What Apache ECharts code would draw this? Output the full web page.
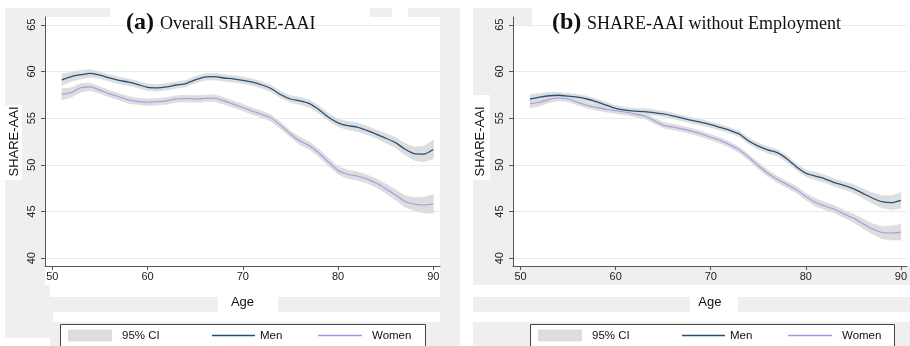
<!DOCTYPE html>
<html>
<head>
<meta charset="utf-8">
<script src="https://cdn.jsdelivr.net/npm/echarts@6/dist/echarts.min.js"></script>
<style>html,body{margin:0;padding:0;background:#fff;}#c{width:910px;height:346px;}</style>
</head>
<body>
<div id="c"></div>
<script>
// ---- data ----
const ages = [51,52,53,54,55,56,57,58,59,60,61,62,63,64,65,66,67,68,69,70,71,72,73,74,75,76,77,78,79,80,81,82,83,84,85,86,87,88,89,90];
const menA = [59.1,59.45,59.65,59.8,59.6,59.3,59.05,58.85,58.6,58.3,58.25,58.35,58.55,58.7,59.1,59.4,59.45,59.3,59.2,59.05,58.85,58.55,58.15,57.5,57.05,56.85,56.55,55.9,55.1,54.5,54.2,54.05,53.7,53.3,52.85,52.4,51.7,51.2,51.15,51.65];
const womenA = [57.55,57.75,58.25,58.35,58.0,57.6,57.3,56.95,56.8,56.7,56.75,56.85,57.05,57.1,57.05,57.1,57.15,56.85,56.5,56.15,55.75,55.4,55.0,54.2,53.3,52.55,52.05,51.25,50.3,49.4,49.0,48.8,48.5,48.05,47.45,46.8,46.1,45.8,45.7,45.8];
const ciA = [0.6,0.5,0.45,0.4,0.35,0.35,0.35,0.35,0.35,0.35,0.35,0.35,0.35,0.35,0.35,0.35,0.35,0.35,0.35,0.35,0.35,0.35,0.35,0.35,0.35,0.4,0.4,0.4,0.4,0.4,0.45,0.45,0.45,0.45,0.5,0.55,0.6,0.7,0.85,1.0];
const menB = [57.05,57.25,57.4,57.45,57.35,57.25,57.05,56.75,56.4,56.05,55.85,55.75,55.7,55.6,55.45,55.25,55.0,54.75,54.55,54.3,54.0,53.7,53.3,52.55,52.0,51.6,51.3,50.65,49.8,49.1,48.8,48.5,48.1,47.8,47.45,46.95,46.45,46.05,45.95,46.2];
const womenB = [56.55,56.7,57.0,57.15,57.05,56.7,56.35,56.15,55.95,55.8,55.65,55.45,55.25,54.75,54.25,54.05,53.85,53.6,53.3,52.95,52.6,52.15,51.6,50.8,49.9,49.1,48.45,47.9,47.35,46.6,46.0,45.6,45.25,44.75,44.3,43.7,43.15,42.75,42.7,42.8];
const ciB = [0.45,0.4,0.35,0.3,0.3,0.3,0.3,0.3,0.3,0.3,0.3,0.3,0.3,0.3,0.3,0.3,0.3,0.3,0.3,0.3,0.3,0.3,0.3,0.3,0.35,0.35,0.35,0.35,0.35,0.35,0.4,0.4,0.4,0.4,0.45,0.5,0.55,0.65,0.75,0.85];
const xTicks = [50,60,70,80,90];
const yTicks = [40,45,50,55,60,65];
const titles = [['(a)','Overall SHARE-AAI'],['(b)','SHARE-AAI without Employment']];
const legendNames = ['95% CI','Men','Women'];
const yName = 'SHARE-AAI';
const xName = 'Age';

// ---- styles ----
const MEN = '#24507e', WOMEN = '#a29ae4', BAND = '#dddddd', GRAY = '#efefef';
const SANS = '"Liberation Sans", Arial, sans-serif';
const SERIF = '"Liberation Serif", "Times New Roman", serif';

// confidence band as a custom polygon series (segment by segment, through the axes' scales)
function bandSeries(vals, ci, idx) {
  const segs = [];
  for (let i = 0; i < ages.length - 1; i++) {
    segs.push([ages[i], vals[i] - ci[i], vals[i] + ci[i], ages[i+1], vals[i+1] - ci[i+1], vals[i+1] + ci[i+1]]);
  }
  return {
    type:'custom', name:'95% CI', xAxisIndex:idx, yAxisIndex:idx, data:segs, silent:true, z:1,
    itemStyle:{color:BAND},
    encode:{x:[0,3], y:[1,2,4,5]},
    renderItem:function(params, api){
      const pts = [
        api.coord([api.value(0), api.value(1)]),
        api.coord([api.value(3), api.value(4)]),
        api.coord([api.value(3), api.value(5)]),
        api.coord([api.value(0), api.value(2)])
      ];
      return {type:'polygon', shape:{points:pts}, style:{fill:BAND, stroke:BAND, lineWidth:0.6}};
    }
  };
}
function lineSeries(name, vals, idx, color, w) {
  return {type:'line', name:name, xAxisIndex:idx, yAxisIndex:idx, data:ages.map((a,i)=>[a,vals[i]]),
    symbol:'none', showSymbol:false, smooth:0.2, lineStyle:{color:color, width:w}, itemStyle:{color:color}, z:3};
}

const grids = [
  {left:45, top:17, width:395, height:249},
  {left:513, top:17, width:397, height:249}
];
const xRanges = [[49.23, 90.7],[49.2, 90.63]];
const xAxes = xRanges.map((r, i) => ({
  type:'value', gridIndex:i, min:r[0], max:r[1],
  name:xName, nameLocation:'middle', nameGap:30,
  nameTextStyle:{fontFamily:SANS, fontSize:13, color:'#111'},
  axisLine:{show:true, lineStyle:{color:'#555', width:1}},
  axisTick:{show:true, length:4, customValues:xTicks, lineStyle:{color:'#555'}},
  axisLabel:{customValues:xTicks, margin:5, fontFamily:SANS, fontSize:11, color:'#222'},
  splitLine:{show:false}
}));
const yAxes = [0,1].map(i => ({
  type:'value', gridIndex:i, min:39.17, max:65.83,
  name:yName, nameLocation:'middle', nameGap: i===0 ? 24 : 26, nameRotate:90,
  nameTextStyle:{fontFamily:SANS, fontSize:13, color:'#111'},
  axisLine:{show:true, lineStyle:{color:'#555', width:1}},
  axisTick:{show:true, length:4, customValues:yTicks, lineStyle:{color:'#555'}},
  axisLabel:{customValues:yTicks, rotate:90, margin:8, fontFamily:SANS, fontSize:11, color:'#222'},
  splitLine:{show:true, lineStyle:{color:'#e3eef0', width:1}}
}));

const series = [
  bandSeries(menA, ciA, 0), bandSeries(womenA, ciA, 0),
  bandSeries(menB, ciB, 1), bandSeries(womenB, ciB, 1),
  lineSeries('Men', menA, 0, MEN, 1.3), lineSeries('Women', womenA, 0, WOMEN, 1.1),
  lineSeries('Men', menB, 1, MEN, 1.3), lineSeries('Women', womenB, 1, WOMEN, 1.1)
];

// legends: one component per item so spacing matches the reference
const legendPos = [[68,212,318],[538,682,788]];
const legendIconW = [44,43,44];
const legendTextPad = [5,0,5];
const legends = [];
legendPos.forEach(row => row.forEach((x, k) => {
  const isBand = k === 0;
  legends.push({
    left:x, top:329.5, padding:0, selectedMode:false,
    itemWidth:legendIconW[k], itemHeight: isBand ? 12 : 1.3,
    data:[ isBand ? {name:legendNames[0], icon:'rect', itemStyle:{color:BAND}}
                  : {name:legendNames[k], icon:'rect', itemStyle:{color: k===1 ? MEN : WOMEN}} ],
    textStyle:{fontFamily:SANS, fontSize:11.5, color:'#111', padding:[0,0,0,legendTextPad[k]]}
  });
}));

// background patches (scanned Stata graph region)
function rect(x,y,w,h,fill,z,stroke){ return {type:'rect', shape:{x:x,y:y,width:w,height:h}, style:{fill:fill, stroke:stroke||null, lineWidth:stroke?1:0}, z:z, silent:true}; }
const bg = [
  rect(5,8,455,338,GRAY,-20),
  rect(110,8,260,9,'#fff',-19), rect(45,17,395,249,'#fff',-19), rect(392,8,16,17,'#fff',-19),
  rect(45,266,395,19,'#fff',-19), rect(50,285,390,12,'#fff',-19), rect(218,297,60,15,'#fff',-19),
  rect(53,312,387,10,'#fff',-19), rect(0,105,22,75,'#fff',-19), rect(0,338,50,8,'#fff',-19),
  rect(473,8,437,338,GRAY,-20),
  rect(532,8,378,17,'#fff',-19), rect(513,25,397,241,'#fff',-19),
  rect(473,285,437,12,'#fff',-19), rect(690,297,48,15,'#fff',-19),
  rect(473,312,437,10,'#fff',-19), rect(466,95,24,85,'#fff',-19),
  rect(60.5,324.5,365,30,'#fff',2,'#444'), rect(530.5,324.5,364,30,'#fff',2,'#444')
];
const titleEls = [];
[[126,160],[552,587]].forEach((p, i) => {
  titleEls.push({type:'text', x:p[0], y:23, z:5, style:{text:titles[i][0], font:'bold 24px '+SERIF, fill:'#111', textVerticalAlign:'middle'}});
  titleEls.push({type:'text', x:p[1], y:24, z:5, style:{text:titles[i][1], font:'18px '+SERIF, fill:'#111', textVerticalAlign:'middle'}});
});

const chart = echarts.init(document.getElementById('c'), null, {renderer:'canvas'});
chart.setOption({
  animation:false,
  backgroundColor:'#fff',
  grid:grids, xAxis:xAxes, yAxis:yAxes, series:series, legend:legends,
  graphic:{elements: bg.concat(titleEls)}
});
</script>
</body>
</html>
